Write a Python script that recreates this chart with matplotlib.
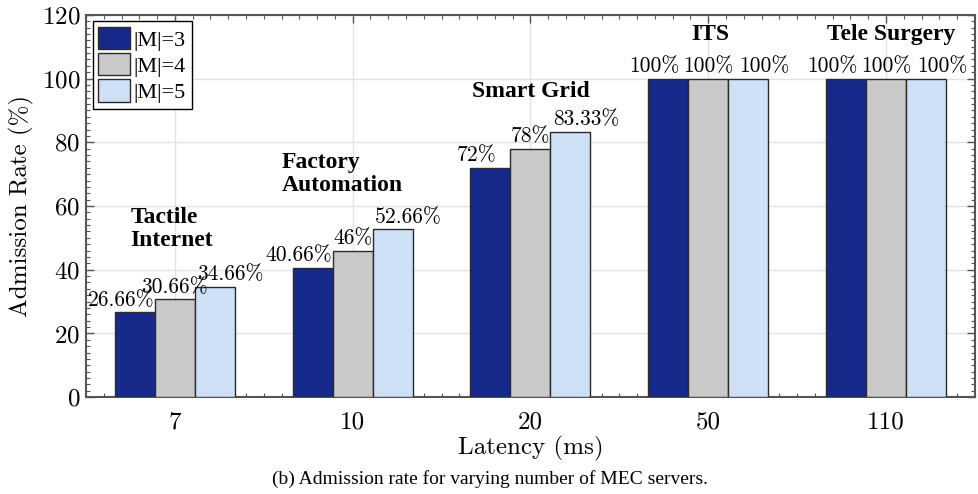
import numpy as np
import matplotlib
matplotlib.use("Agg")
import matplotlib.pyplot as plt
from matplotlib.ticker import MultipleLocator

# data
latency = ["7", "10", "20", "50", "110"]
series_names = ["|M|=3", "|M|=4", "|M|=5"]
m3 = [26.66, 40.66, 72, 100, 100]
m4 = [30.66, 46, 78, 100, 100]
m5 = [34.66, 52.66, 83.33, 100, 100]
value_labels = [
    ["26.66%", "40.66%", "72%", "100%", "100%"],
    ["30.66%", "46%", "78%", "100%", "100%"],
    ["34.66%", "52.66%", "83.33%", "100%", "100%"],
]
app_names = ["Tactile\nInternet", "Factory\nAutomation", "Smart Grid", "ITS", "Tele Surgery"]

colors = ["#152a8a", "#c9c9c9", "#cde0f6"]

plt.rcParams["font.family"] = ["cmr10", "DejaVu Serif"]
plt.rcParams["axes.formatter.use_mathtext"] = True
plt.rcParams["mathtext.fontset"] = "cm"

fig = plt.figure(figsize=(9.79, 4.94), dpi=100)
ax = fig.add_axes([0.0878, 0.196, 0.908, 0.774])

x = np.arange(1, len(latency) + 1)
w = 0.225
offsets = [-w, 0, w]
all_vals = [m3, m4, m5]

for i, vals in enumerate(all_vals):
    ax.bar(x + offsets[i], vals, width=w, color=colors[i], edgecolor="#2a2a2a",
           linewidth=1.0, label=series_names[i], zorder=3)

# value labels above bars (spread out a little like the original)
lab_shift = [-0.075, 0.0, 0.09]
for i, vals in enumerate(all_vals):
    for j, v in enumerate(vals):
        ax.text(x[j] + offsets[i] + lab_shift[i], v + 0.8, value_labels[i][j],
                ha="center", va="bottom", fontsize=15.5, zorder=4)

# application names
name_pos = [(0.75, 45.8, "left"), (1.60, 63.0, "left"), (2.67, 92.6, "left"),
            (4.01, 110.4, "center"), (5.03, 110.4, "center")]
for name, (px, py, ha) in zip(app_names, name_pos):
    ax.text(px, py, name, ha=ha, va="bottom", fontsize=17, fontweight="bold",
            family="Liberation Serif", linespacing=1.15, zorder=4)

ax.set_xlim(0.5, 5.5)
ax.set_ylim(0, 120)
ax.set_xticks(x)
ax.set_xticklabels(latency)
ax.set_yticks(np.arange(0, 121, 20))
ax.xaxis.set_minor_locator(MultipleLocator(0.1))
ax.yaxis.set_minor_locator(MultipleLocator(2))
ax.tick_params(axis="both", which="both", direction="in", top=True, right=True,
               color="#555555", labelsize=18)
ax.tick_params(axis="both", which="major", length=6, width=1.0)
ax.tick_params(axis="both", which="minor", length=3, width=0.8)
ax.tick_params(axis="x", which="major", pad=10)
ax.tick_params(axis="y", which="major", pad=4)

ax.grid(True, which="major", color="#e2e2e2", linewidth=1.0, zorder=0)
ax.set_axisbelow(True)
for s in ax.spines.values():
    s.set_color("#555555")
    s.set_linewidth(1.5)

ax.set_xlabel("Latency (ms)", fontsize=18, labelpad=2)
ax.set_ylabel("Admission Rate (%)", fontsize=18, labelpad=6)

leg = ax.legend(loc="upper left", prop={"family": "Liberation Serif", "size": 16},
                fancybox=False, edgecolor="black", framealpha=1,
                handlelength=1.45, handleheight=1.15, handletextpad=0.15,
                borderaxespad=0.3, borderpad=0.25, labelspacing=0.12)
leg.get_frame().set_linewidth(1.0)

fig.text(0.5, 0.03, "(b) Admission rate for varying number of MEC servers.",
         ha="center", va="center", fontsize=14, family="Liberation Serif")

fig.savefig("out.png", dpi=100)
